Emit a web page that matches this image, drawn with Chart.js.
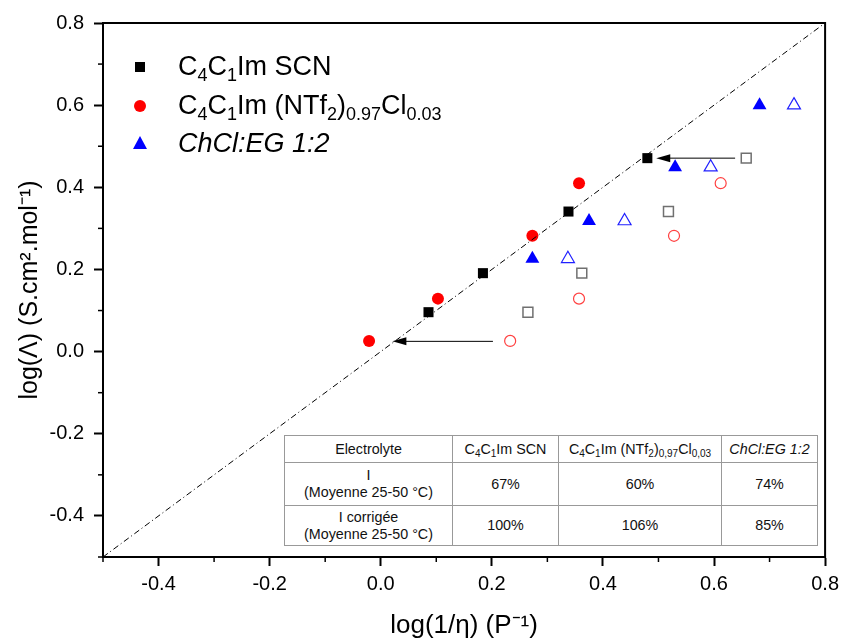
<!DOCTYPE html>
<html>
<head>
<meta charset="utf-8">
<script src="https://cdn.jsdelivr.net/npm/chart.js@4/dist/chart.umd.min.js"></script>
<style>
  html, body { margin: 0; padding: 0; background: #fff; }
  #wrap { position: relative; width: 845px; height: 641px; font-family: "Liberation Sans", Arial, sans-serif; }
  canvas { position: absolute; left: 0; top: 0; }
  #legend { position: absolute; left: 178px; top: 47px; font-size: 27px; color: #000; line-height: 38.5px; }
  #legend div { white-space: nowrap; }
  #legend sub { font-size: 18px; vertical-align: -6px; line-height: 0; }
  #tbl { position: absolute; left: 284px; top: 435px; border-collapse: collapse; font-size: 14.3px; color: #111; background: #fff; border: 1.5px solid #333; table-layout: fixed; }
  #tbl td { border: 1px solid #999; text-align: center; padding: 0; line-height: 17px; white-space: nowrap; overflow: hidden; }
  #tbl sub { font-size: 10px; vertical-align: -3px; line-height: 0; }
</style>
</head>
<body>
<div id="wrap">
  <canvas id="c" width="845" height="641"></canvas>
  <div id="legend">
    <div>C<sub>4</sub>C<sub>1</sub>Im SCN</div>
    <div>C<sub>4</sub>C<sub>1</sub>Im (NTf<sub>2</sub>)<sub>0.97</sub>Cl<sub>0.03</sub></div>
    <div><i>ChCl:EG 1:2</i></div>
  </div>
  <table id="tbl">
    <tr style="height:27px">
      <td style="width:167px">Electrolyte</td>
      <td style="width:105px">C<sub>4</sub>C<sub>1</sub>Im SCN</td>
      <td style="width:162px">C<sub>4</sub>C<sub>1</sub>Im (NTf<sub>2</sub>)<sub>0,97</sub>Cl<sub>0,03</sub></td>
      <td style="width:95px"><i>ChCl:EG 1:2</i></td>
    </tr>
    <tr style="height:43px">
      <td>I<br>(Moyenne 25-50 °C)</td><td>67%</td><td>60%</td><td>74%</td>
    </tr>
    <tr style="height:40px">
      <td>I corrigée<br>(Moyenne 25-50 °C)</td><td>100%</td><td>106%</td><td>85%</td>
    </tr>
  </table>
</div>
<script>
// ---- data ----
const scnX      = [0.086, 0.184, 0.338, 0.480];
const scnY      = [0.096, 0.191, 0.341, 0.471];
const ntfX      = [-0.021, 0.103, 0.273, 0.357];
const ntfY      = [0.026, 0.129, 0.282, 0.410];
const chclX     = [0.273, 0.375, 0.530, 0.682];
const chclY     = [0.226, 0.318, 0.449, 0.600];
const scnOpenX  = [0.265, 0.362, 0.518, 0.658];
const ntfOpenX  = [0.233, 0.357, 0.528, 0.612];
const chclOpenX = [0.337, 0.439, 0.594, 0.744];
const diagX     = [-0.5, 0.8];
const diagY     = [-0.5, 0.8];
const arrowFromX = [0.202, 0.638];
const arrowToX   = [0.021, 0.496];
const arrowY     = [0.025, 0.471];
const xMajorTicks = [-0.4, -0.2, 0.0, 0.2, 0.4, 0.6, 0.8];
const yMajorTicks = [-0.4, -0.2, 0.0, 0.2, 0.4, 0.6, 0.8];
const xMinorTicks = [-0.5, -0.3, -0.1, 0.1, 0.3, 0.5, 0.7];
const yMinorTicks = [-0.5, -0.3, -0.1, 0.1, 0.3, 0.5, 0.7];

const pts = (xs, ys) => xs.map((x, i) => ({x: x, y: ys[i]}));

const framePlugin = {
  id: 'frame',
  afterDraw(chart) {
    const ctx = chart.ctx, a = chart.chartArea;
    const xs = chart.scales.x, ys = chart.scales.y;
    ctx.save();
    // arrows
    ctx.strokeStyle = '#000'; ctx.fillStyle = '#000'; ctx.lineWidth = 1;
    arrowFromX.forEach((fx, i) => {
      const x1 = xs.getPixelForValue(fx), x2 = xs.getPixelForValue(arrowToX[i]);
      const y = ys.getPixelForValue(arrowY[i]);
      ctx.beginPath(); ctx.moveTo(x1, y); ctx.lineTo(x2 + 10, y); ctx.stroke();
      ctx.beginPath(); ctx.moveTo(x2, y); ctx.lineTo(x2 + 14, y - 4); ctx.lineTo(x2 + 14, y + 4); ctx.closePath(); ctx.fill();
    });
    // box
    ctx.lineWidth = 2; ctx.strokeStyle = '#000';
    ctx.strokeRect(a.left, a.top, a.right - a.left, a.bottom - a.top);
    // minor ticks
    ctx.lineWidth = 1.5;
    xMinorTicks.forEach(v => { const p = xs.getPixelForValue(v); ctx.beginPath(); ctx.moveTo(p, a.bottom); ctx.lineTo(p, a.bottom + 5); ctx.stroke(); });
    yMinorTicks.forEach(v => { const p = ys.getPixelForValue(v); ctx.beginPath(); ctx.moveTo(a.left, p); ctx.lineTo(a.left - 5, p); ctx.stroke(); });
    ctx.restore();
  }
};

const legendMarkers = {
  id: 'legendMarkers',
  afterDraw(chart) {
    const ctx = chart.ctx;
    ctx.save();
    ctx.fillStyle = '#000'; ctx.fillRect(135, 62, 10, 10);
    ctx.fillStyle = '#ff0000'; ctx.beginPath(); ctx.arc(140, 106, 6, 0, Math.PI * 2); ctx.fill();
    ctx.fillStyle = '#0000ff'; ctx.beginPath(); ctx.moveTo(140, 136); ctx.lineTo(147, 149); ctx.lineTo(133, 149); ctx.closePath(); ctx.fill();
    ctx.restore();
  }
};

const tickFont = {family: '"Liberation Sans", Arial, sans-serif', size: 20};
const titleFont = {family: '"Liberation Sans", Arial, sans-serif', size: 25};
const xTitleFont = {family: '"Liberation Sans", Arial, sans-serif', size: 26};

new Chart(document.getElementById('c'), {
  type: 'scatter',
  data: {
    datasets: [
      {type: 'line', data: pts(diagX, diagY), borderColor: '#000', borderWidth: 1, borderDash: [6, 3, 1, 3], pointRadius: 0, fill: false},
      {data: pts(scnX, scnY), pointStyle: 'rect', pointRadius: 7.1, backgroundColor: '#000', borderColor: '#000', borderWidth: 0},
      {data: pts(ntfX, ntfY), pointStyle: 'circle', pointRadius: 6, backgroundColor: '#ff0000', borderColor: '#ff0000', borderWidth: 0},
      {data: pts(chclX, chclY), pointStyle: 'triangle', pointRadius: 8, backgroundColor: '#0000ff', borderColor: '#0000ff', borderWidth: 0},
      {data: pts(scnOpenX, scnY), pointStyle: 'rect', pointRadius: 7, backgroundColor: 'rgba(255,255,255,0)', borderColor: '#707070', borderWidth: 1.5},
      {data: pts(ntfOpenX, ntfY), pointStyle: 'circle', pointRadius: 5.5, backgroundColor: 'rgba(255,255,255,0)', borderColor: '#ff4040', borderWidth: 1.2},
      {data: pts(chclOpenX, chclY), pointStyle: 'triangle', pointRadius: 7.5, backgroundColor: 'rgba(255,255,255,0)', borderColor: '#2020ff', borderWidth: 1.2}
    ]
  },
  options: {
    responsive: false,
    animation: false,
    layout: {padding: {left: 0, right: 17, top: 23, bottom: 0}},
    plugins: {legend: {display: false}, tooltip: {enabled: false}},
    scales: {
      x: {
        type: 'linear', min: -0.5, max: 0.8,
        afterBuildTicks: s => { s.ticks = xMajorTicks.map(v => ({value: v})); },
        afterFit: s => { s.height = 84; },
        ticks: {font: tickFont, color: '#000', padding: 6, maxRotation: 0, callback: v => v.toFixed(1)},
        grid: {drawOnChartArea: false, drawTicks: true, tickLength: 9, tickWidth: 2, color: '#000'},
        border: {display: true, color: '#000', width: 2},
        title: {display: true, text: 'log(1/η) (P⁻¹)', font: xTitleFont, color: '#000', padding: {top: 0, bottom: 0}}
      },
      y: {
        type: 'linear', min: -0.5, max: 0.8,
        afterBuildTicks: s => { s.ticks = yMajorTicks.map(v => ({value: v})); },
        afterFit: s => { s.width = 103; },
        ticks: {font: tickFont, color: '#000', padding: 10, callback: v => v.toFixed(1)},
        grid: {drawOnChartArea: false, drawTicks: true, tickLength: 9, tickWidth: 2, color: '#000'},
        border: {display: true, color: '#000', width: 2},
        title: {display: true, text: 'log(Λ) (S.cm².mol⁻¹)', font: titleFont, color: '#000', padding: {top: 15, bottom: 0}}
      }
    }
  },
  plugins: [framePlugin, legendMarkers]
});
</script>
</body>
</html>
